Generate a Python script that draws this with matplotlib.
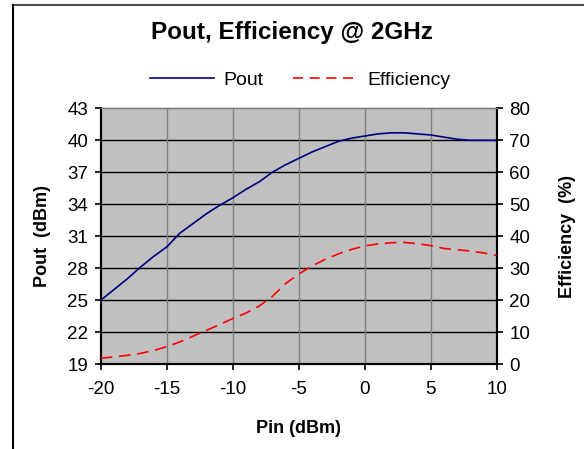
import numpy as np
import matplotlib
matplotlib.use('Agg')
from matplotlib import pyplot as plt
from matplotlib.lines import Line2D

plt.rcParams['font.family'] = ['Liberation Sans', 'DejaVu Sans']
plt.rcParams['axes.unicode_minus'] = False

# data (1 dB steps)
pin = [-20, -19, -18, -17, -16, -15, -14, -13, -12, -11, -10,
       -9, -8, -7, -6, -5, -4, -3, -2, -1, 0,
       1, 2, 3, 4, 5, 6, 7, 8, 9, 10]
pout = [25.0, 26.0, 27.0, 28.1, 29.1, 30.0, 31.3, 32.2, 33.1, 33.9, 34.6,
        35.4, 36.1, 37.0, 37.7, 38.3, 38.9, 39.4, 39.9, 40.2, 40.4,
        40.6, 40.7, 40.7, 40.6, 40.5, 40.3, 40.1, 40.0, 40.0, 40.0]
eff = [1.9, 2.3, 2.8, 3.4, 4.3, 5.5, 7.0, 8.8, 10.6, 12.4, 14.3,
       16.0, 18.2, 21.2, 25.2, 28.2, 30.7, 32.8, 34.5, 35.9, 37.0,
       37.6, 38.0, 38.1, 37.7, 37.1, 36.2, 35.8, 35.4, 34.8, 34.0]

x_ticks = [-20, -15, -10, -5, 0, 5, 10]
pout_ticks = [19, 22, 25, 28, 31, 34, 37, 40, 43]
eff_ticks = [0, 10, 20, 30, 40, 50, 60, 70, 80]

fig = plt.figure(figsize=(5.84, 4.49), dpi=100)
ax = fig.add_axes([0.1724, 0.1886, 0.6781, 0.5702])
ax2 = ax.twinx()

ax.set_facecolor('#C0C0C0')
ax.set_xlim(-20, 10)
ax.set_ylim(19, 43)
ax2.set_ylim(0, 80)
ax.set_xticks(x_ticks)
ax.set_yticks(pout_ticks)
ax2.set_yticks(eff_ticks)

# grid: black horizontal, gray vertical
for y in pout_ticks[1:-1]:
    ax.axhline(y, color='black', lw=1.0, zorder=1)
for x in x_ticks[1:-1]:
    ax.axvline(x, color='#808080', lw=1.0, zorder=1)

ax.plot(pin, pout, color='#000080', lw=1.2, zorder=3)
ax2.plot(pin, eff, color='#FF0000', lw=1.2, dashes=(7, 4), zorder=3)

for a in (ax, ax2):
    for s in a.spines.values():
        s.set_linewidth(1.5)
        s.set_color('black')
    a.spines['top'].set_color('#808080')
    a.spines['top'].set_linewidth(1.0)
    a.tick_params(direction='out', length=4, width=1.2, labelsize=13.5, pad=5)
ax.tick_params(axis='x', pad=8)

ax.set_xlabel('Pin (dBm)', fontsize=13, fontweight='bold', labelpad=16)
ax.set_ylabel('Pout  (dBm)', fontsize=13, fontweight='bold', labelpad=12)
ax2.set_ylabel('Efficiency  (%)', fontsize=13, fontweight='bold', rotation=90, labelpad=21)

fig.text(0.5, 1 - 33 / 449, 'Pout, Efficiency @ 2GHz', ha='center', va='center',
         fontsize=17.5, fontweight='bold')

handles = [Line2D([], [], color='#000080', lw=1.2),
           Line2D([], [], color='#FF0000', lw=1.2, dashes=(6, 4))]
fig.legend(handles, ['Pout', 'Efficiency'], loc='center', bbox_to_anchor=(300 / 584, 1 - 80 / 449),
           ncol=2, frameon=False, fontsize=14, handlelength=3.3, columnspacing=1.5, handletextpad=0.5)

# chart border (top and left visible)
fig.add_artist(Line2D([13 / 584, 1], [1 - 5 / 449, 1 - 5 / 449], transform=fig.transFigure, color='#505050', lw=1.5))
fig.add_artist(Line2D([13 / 584, 13 / 584], [0, 1 - 5 / 449], transform=fig.transFigure, color='black', lw=1.5))

fig.savefig('out.png', dpi=100)
